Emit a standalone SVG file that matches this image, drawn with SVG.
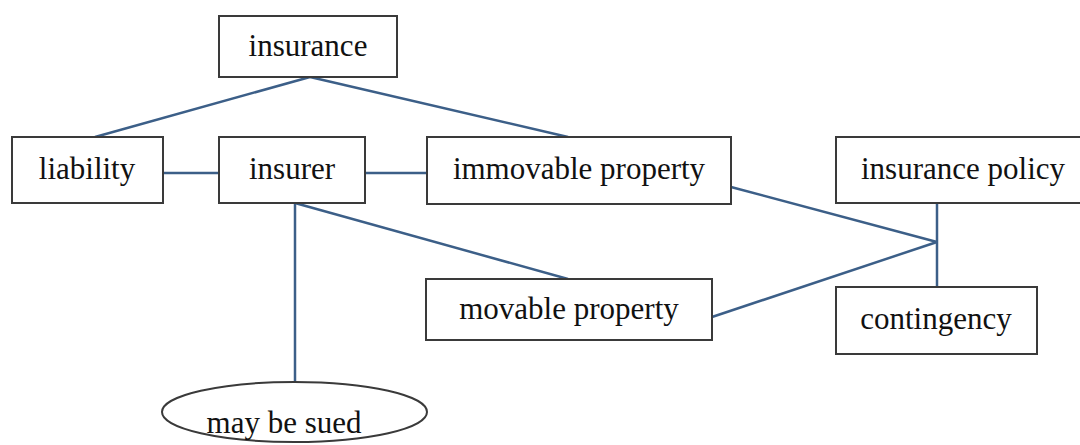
<svg xmlns="http://www.w3.org/2000/svg" width="1080" height="445" viewBox="0 0 1080 445">
<style>
.box{fill:#fff;stroke:#3a3a3a;stroke-width:2}
.lbl{font-family:"Liberation Serif","Times New Roman",serif;font-size:31px;fill:#111;text-anchor:middle}
.edge{stroke:#3c5f88;stroke-width:2.5;fill:none}
</style>
<rect width="1080" height="445" fill="#fff"/>
<g id="connectors">
<line class="edge" x1="310" y1="77" x2="95" y2="137"/>
<line class="edge" x1="310" y1="77" x2="568" y2="137"/>
<line class="edge" x1="163" y1="173" x2="219" y2="173"/>
<line class="edge" x1="365" y1="173" x2="427" y2="173"/>
<line class="edge" x1="295" y1="203" x2="295" y2="382"/>
<line class="edge" x1="295" y1="203" x2="568" y2="279"/>
<line class="edge" x1="731" y1="187" x2="937" y2="242"/>
<line class="edge" x1="712" y1="317" x2="937" y2="242"/>
<line class="edge" x1="937" y1="203" x2="937" y2="290"/>
</g>
<g id="insurance"><rect class="box" x="219" y="16" width="178" height="61"/><text class="lbl" x="308" y="56">insurance</text></g>
<g id="liability"><rect class="box" x="12" y="137" width="151" height="66"/><text class="lbl" x="87" y="179">liability</text></g>
<g id="insurer"><rect class="box" x="219" y="137" width="146" height="66"/><text class="lbl" x="292" y="179">insurer</text></g>
<g id="immovable-property"><rect class="box" x="427" y="137" width="304" height="67"/><text class="lbl" x="579" y="179">immovable property</text></g>
<g id="insurance-policy"><rect class="box" x="836" y="137" width="260" height="66"/><text class="lbl" x="963" y="179">insurance policy</text></g>
<g id="movable-property"><rect class="box" x="426" y="279" width="286" height="61"/><text class="lbl" x="569" y="319">movable property</text></g>
<g id="contingency"><rect class="box" x="836" y="287" width="201" height="67"/><text class="lbl" x="936" y="329">contingency</text></g>
<g id="may-be-sued"><ellipse class="box" cx="294.5" cy="412" rx="132.5" ry="30"/><text class="lbl" x="284" y="433">may be sued</text></g>
</svg>
